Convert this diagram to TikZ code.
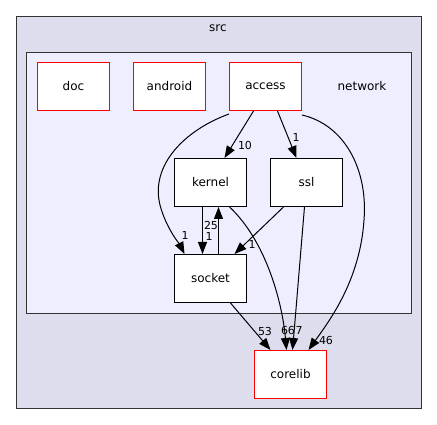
\documentclass[tikz,border=0pt]{standalone}
\usepackage{fontspec}
\setmainfont{DejaVu Sans}
\usetikzlibrary{arrows.meta}
\definecolor{srcfill}{HTML}{DDDDEE}
\definecolor{netfill}{HTML}{EEEEFF}
\definecolor{cborder}{HTML}{333333}
\definecolor{dirred}{HTML}{FF0000}
\tikzset{
  dirbox/.style={rectangle, fill=white, minimum width=72pt, minimum height=48pt, inner sep=0pt, font=\fontsize{12}{14}\selectfont, line width=1pt, text=black},
  blackdir/.style={dirbox, draw=black},
  reddir/.style={dirbox, draw=dirred},
  dep/.style={draw=black, line width=1pt, -{Triangle[length=12pt,width=9pt]}},
  elabel/.style={font=\fontsize{11}{13}\selectfont, inner sep=0pt}
}
\begin{document}
\begin{tikzpicture}[x=1pt,y=-1pt]
\useasboundingbox (0,0) rectangle (437,425);
\draw[fill=srcfill, draw=cborder, line width=1pt] (16.5,16.5) rectangle (421.5,408.5);
\node[font=\fontsize{12}{14}\selectfont] (srclabel) at (218,28) {src};
\draw[fill=netfill, draw=cborder, line width=1pt] (26.5,52.5) rectangle (411.5,313.5);
\node[font=\fontsize{12}{14}\selectfont] (netlabel) at (362,86) {network};

\node[reddir] (doc) at (73.5,86.5) {doc};
\node[reddir] (android) at (169.5,86.5) {android};
\node[reddir] (access) at (265.5,86.5) {access};
\node[blackdir] (kernel) at (210.5,182.5) {kernel};
\node[blackdir] (ssl) at (306.5,182.5) {ssl};
\node[blackdir] (socket) at (210.5,278.5) {socket};
\node[reddir] (corelib) at (290.5,374.5) {corelib};

% access -> kernel
\draw[dep] ([xshift=-12pt]access.south) -- ([xshift=14pt]kernel.north);
\node[elabel] (l10) at (245,145) {10};
% access -> ssl
\draw[dep] ([xshift=12pt]access.south) -- ([xshift=-10pt]ssl.north);
\node[elabel] (l1a) at (296,137) {1};
% access -> socket
\draw[dep] ([yshift=-3pt]access.south west) .. controls (185,130) and (150,165) .. (160,205)
  .. controls (166,228) and (180,245) .. ([xshift=-26pt]socket.north);
\node[elabel] (l1b) at (185,235) {1};
% access -> corelib
\draw[dep] ([yshift=-4pt]access.south east) .. controls (345,125) and (368,170) .. (364,220)
  .. controls (360,280) and (330,320) .. ([xshift=18pt]corelib.north);
\node[elabel] (l46) at (326,340) {46};
% kernel -> socket
\draw[dep] ([xshift=-8pt]kernel.south) -- ([xshift=-8pt]socket.north);
\node[elabel] (l1c) at (209,236) {1};
% socket -> kernel
\draw[dep] ([xshift=8pt]socket.north) -- ([xshift=8pt]kernel.south);
\node[elabel] (l25) at (211,225) {25};
% ssl -> socket
\draw[dep] ([xshift=-23pt]ssl.south) -- ([xshift=24pt]socket.north);
\node[elabel] (l1d) at (252,244) {1};
% socket -> corelib
\draw[dep] ([xshift=20pt]socket.south) -- ([xshift=-20pt]corelib.north);
\node[elabel] (l53) at (265,331) {53};
% kernel -> corelib
\draw[dep] ([xshift=19pt]kernel.south) .. controls (265,240) and (282,300) .. ([xshift=-4pt]corelib.north);
\node[elabel] (l66) at (288,330) {66};
% ssl -> corelib
\draw[dep] ([xshift=-2pt]ssl.south) .. controls (300,260) and (296,310) .. ([xshift=2pt]corelib.north);
\node[elabel] (l7) at (299,330) {7};
\end{tikzpicture}
\end{document}
